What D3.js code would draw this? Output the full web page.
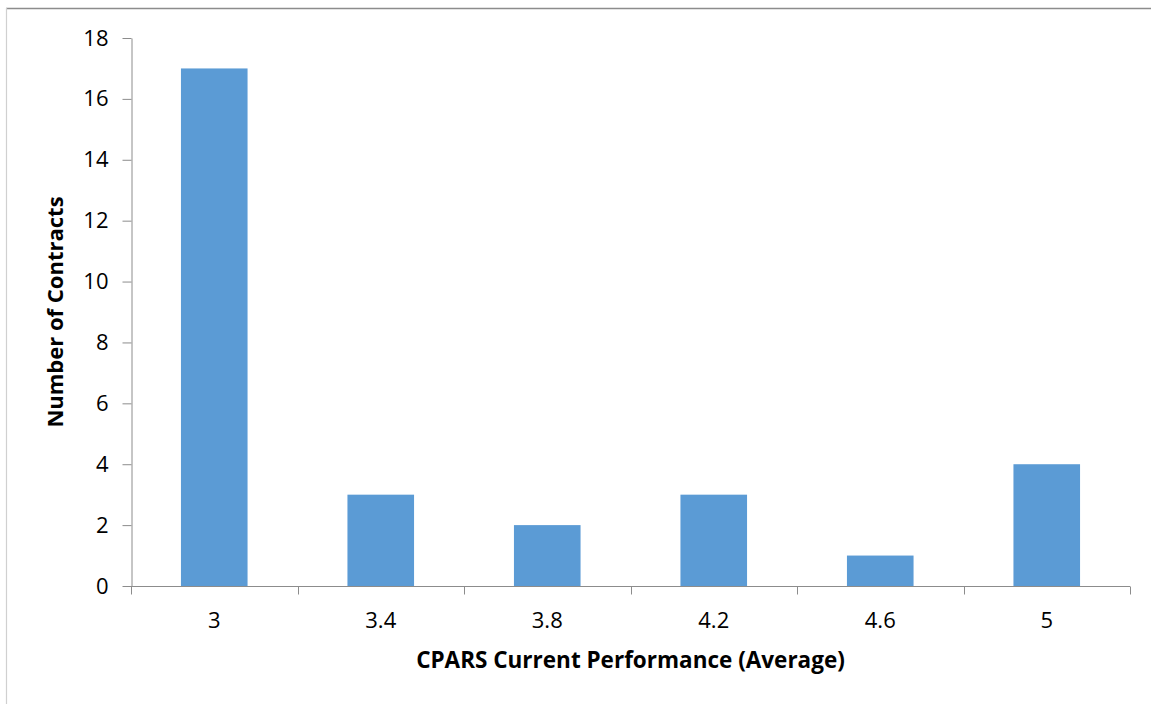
<!DOCTYPE html>
<html>
<head>
<meta charset="utf-8">
<script src="https://cdn.jsdelivr.net/npm/d3@7/dist/d3.min.js"></script>
<style>
  html, body { margin: 0; padding: 0; background: #fff; }
  svg { display: block; }
  text { font-family: "Open Sans", "Liberation Sans", sans-serif; fill: #000; }
</style>
</head>
<body>
<svg id="chart" width="1151" height="704"></svg>
<script>
// Distribution of CPARS current performance averages
const categories = ["3", "3.4", "3.8", "4.2", "4.6", "5"];
const contracts = [17, 3, 2, 3, 1, 4];
const yTicks = [0, 2, 4, 6, 8, 10, 12, 14, 16, 18];

const svg = d3.select("#chart");
const W = 1151, H = 704;
const margin = { left: 131, right: 21, top: 38, bottom: 118 };

// outer frame
svg.append("line").attr("x1", 6).attr("x2", W).attr("y1", 8.5).attr("y2", 8.5)
  .attr("stroke", "#8c8c8c").attr("stroke-width", 1.5);
svg.append("line").attr("x1", 6.5).attr("x2", 6.5).attr("y1", 8).attr("y2", H)
  .attr("stroke", "#d0d0d0").attr("stroke-width", 1.2);

const x = d3.scaleBand().domain(categories)
  .range([margin.left, W - margin.right]).paddingInner(0.6).paddingOuter(0.3);
const y = d3.scaleLinear().domain([0, 18]).range([H - margin.bottom, margin.top]);

// bars
svg.append("g").selectAll("rect").data(categories).join("rect")
  .attr("x", d => x(d))
  .attr("width", x.bandwidth())
  .attr("y", (d, i) => y(contracts[i]))
  .attr("height", (d, i) => y(0) - y(contracts[i]))
  .attr("fill", "#5b9bd5");

// y axis
const yAxis = svg.append("g").attr("transform", `translate(${margin.left + 0.5},0)`)
  .call(d3.axisLeft(y).tickValues(yTicks).tickSize(9).tickPadding(14).tickSizeOuter(0));
yAxis.select(".domain").attr("stroke", "#8c8c8c");
yAxis.selectAll(".tick line").attr("stroke", "#8c8c8c");
yAxis.selectAll(".tick text").style("font-size", "22px").attr("fill", "#000");

// x axis with ticks on band boundaries
const xAxisG = svg.append("g").attr("transform", `translate(0,${y(0) + 0.5})`);
xAxisG.append("line").attr("x1", margin.left).attr("x2", W - margin.right)
  .attr("stroke", "#8c8c8c");
const step = x.step();
const boundaries = d3.range(categories.length + 1).map(i => margin.left + i * step);
xAxisG.selectAll(".bt").data(boundaries).join("line")
  .attr("x1", d => Math.round(d) + 0.5).attr("x2", d => Math.round(d) + 0.5)
  .attr("y1", 0).attr("y2", 8).attr("stroke", "#8c8c8c");
xAxisG.selectAll(".lbl").data(categories).join("text")
  .attr("x", d => x(d) + x.bandwidth() / 2)
  .attr("y", 41)
  .attr("text-anchor", "middle")
  .style("font-size", "22px")
  .text(d => d);

// axis titles
svg.append("text")
  .attr("x", (margin.left + W - margin.right) / 2)
  .attr("y", 668)
  .attr("text-anchor", "middle")
  .style("font-size", "22.5px").style("font-weight", "bold")
  .text("CPARS Current Performance (Average)");

svg.append("text")
  .attr("transform", `translate(63,${(y(0) + y(18)) / 2}) rotate(-90)`)
  .attr("text-anchor", "middle")
  .style("font-size", "22px").style("font-weight", "bold")
  .text("Number of Contracts");
</script>
</body>
</html>
